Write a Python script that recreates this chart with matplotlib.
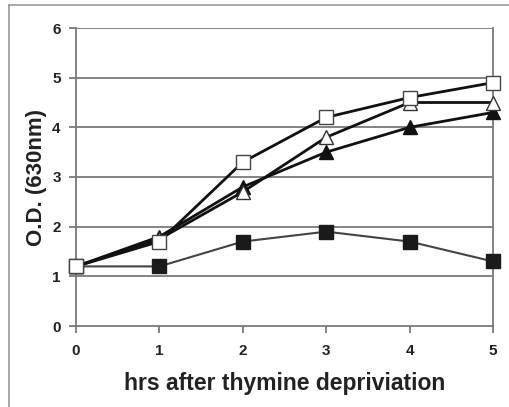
import matplotlib
matplotlib.use("Agg")
import matplotlib.pyplot as plt
from matplotlib.lines import Line2D

hours = [0, 1, 2, 3, 4, 5]
open_square = [1.2, 1.7, 3.3, 4.2, 4.6, 4.9]
open_triangle = [1.2, 1.75, 2.7, 3.8, 4.5, 4.5]
filled_triangle = [1.2, 1.8, 2.8, 3.5, 4.0, 4.3]
filled_square = [1.2, 1.2, 1.7, 1.9, 1.7, 1.3]
yticks = [0, 1, 2, 3, 4, 5, 6]
xticks = [0, 1, 2, 3, 4, 5]

plt.rcParams['font.family'] = ['Liberation Sans', 'DejaVu Sans']

fig = plt.figure(figsize=(5.10, 4.07), dpi=100)
ax = fig.add_axes([76/510, 1-326/407, (493-76)/510, (326-28)/407])

grid_c = '#7a7a7a'
for y in yticks[1:]:
    ax.axhline(y, color=grid_c, lw=1.3, zorder=1)

ax.plot(hours, filled_square, color='#444444', lw=1.5, marker='s', ms=9.5,
        mfc='#1a1a1a', mec='#1a1a1a', zorder=3, clip_on=False)
ax.plot(hours, filled_triangle, color='#111111', lw=2.0, marker='^', ms=10,
        mfc='#111111', mec='#111111', zorder=4, clip_on=False)
ax.plot(hours, open_triangle, color='#111111', lw=2.0, marker='^', ms=10,
        mfc='white', mec='#333333', mew=1.0, zorder=5, clip_on=False)
ax.plot(hours, open_square, color='#111111', lw=2.0, marker='s', ms=9.5,
        mfc='white', mec='#444444', mew=1.0, zorder=6, clip_on=False)

ax.set_xlim(0, 5)
ax.set_ylim(0, 6)
ax.set_xticks(xticks)
ax.set_yticks(yticks)
ax.spines['top'].set_visible(False)
for s in ['left', 'bottom', 'right']:
    ax.spines[s].set_color(grid_c)
    ax.spines[s].set_linewidth(1.3)
    ax.spines[s].set_zorder(2)
ax.tick_params(axis='both', colors=grid_c, width=1.3, length=5, labelcolor='#222222',
               labelsize=11)
ax.tick_params(axis='x', pad=8)
ax.tick_params(axis='y', pad=6)
for lab in ax.get_xticklabels() + ax.get_yticklabels():
    lab.set_fontweight('bold')

ax.set_xlabel('hrs after thymine depriviation', fontsize=16.5, fontweight='bold',
              color='#222222', labelpad=10)
ax.set_ylabel('O.D. (630nm)', fontsize=16, fontweight='bold', color='#222222',
              labelpad=4)

fig.add_artist(Line2D([9/510, 9/510], [0, 1-5/407], transform=fig.transFigure,
                      color='#999999', lw=1.2))
fig.add_artist(Line2D([9/510, 1], [1-5/407, 1-5/407], transform=fig.transFigure,
                      color='#999999', lw=1.2))

fig.savefig('out.png', dpi=100)
